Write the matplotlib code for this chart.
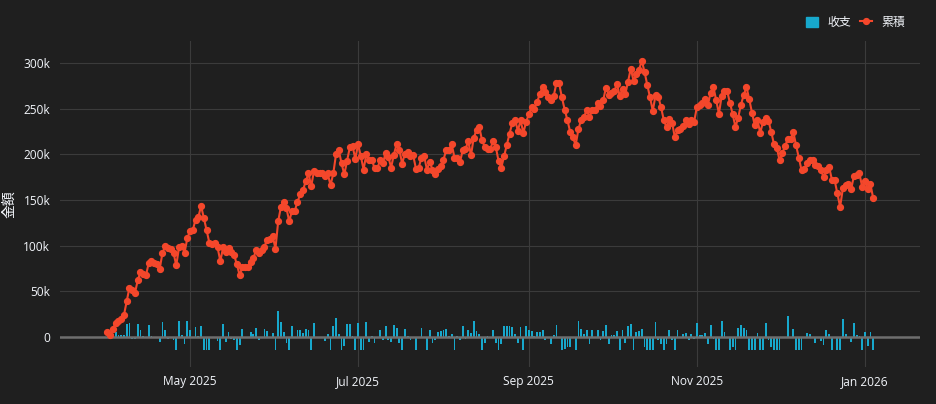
import matplotlib
matplotlib.use("Agg")
import matplotlib.pyplot as plt
from matplotlib.lines import Line2D
from matplotlib.patches import Patch
import numpy as np
import pandas as pd

plt.rcParams['font.family'] = ['Open Sans', 'Noto Sans CJK JP', 'DejaVu Sans']

# one value per day, 2025-04-01 .. 2026-01-04
start_date = '2025-04-01'
end_date = '2026-01-04'

# daily income/expense (thousands)
daily_k = [
    0, -2, 3, 5, 2, 2, 2, 14.6, 15, -2.5, -2.5, 14, 8, 1.5, 0, 12.8, 1, -1.5, 0, -5.5,
    16.4, 7.3, -2, 0, -3, -14, 18, 2, -7.3, 17, 8, 0, 11, 1.5, 12, -14, -14, -14, 0, 0,
    -4, -14, 14.6, -5, 5.5, -2, -3, -14, -9, 8.4, 0, 0, 5.5, 3.6, 10, -3.6, 0, 9, 6.5, 0,
    4.4, -14.6, 29, 16.4, 5, -6.6, -14.6, 11.7, 0, 8, 7.3, 4.7, 9, 7.3, -14.6, 15.7, -1, 0, 0, -4.4,
    3, -14.6, 11.7, 21, 3.6, -14.6, -10, 14.6, 14, 1, -14.6, 15, -14.6, -14.6, 16.4, -5, 1, -7, 0, 8,
    -3, 12, -3.6, -5, 12.8, 10, -6.6, -14.6, 9, 1, -3, 0, -14.6, 0, 10, -1, -14, 7.3, -6.6, -3.6,
    5.5, 6.6, 7.3, 9, 1, 3.6, -14, 1, -3.6, 12, -2, 8, 4.4, 18, 6.6, 3, -14, -6.6, 1, 0,
    7.3, -6.6, -14.6, -7.3, 11.7, 11.7, 11.7, 11, 3, -6.6, 11, -14.6, 11.7, 7.3, 6.6, 1, 5.5, 5.5, 8, -3.6,
    0.5, -8, 1.8, 13.5, 0, -14.6, -12.8, -11, -11, 0, -14, 17, 9, 3, 7.3, -7.3, 7.3, 0.5, 7.3, -3,
    6.6, 12.8, -7.3, 1.8, 1.8, 6.6, -14, 8, -6.6, 11.7, 14, -14, 5.5, 6.6, 9, -11, -14, -14, -14.6, 16.4,
    -3, -7.3, -14, -8, 7.3, -3, -14.6, 8, 0, 3.6, 4.4, -3.6, 3.6, -2, 15.3, 1.8, 1.8, 4.4, -7.3, 12.8,
    -2, -14.6, -14.6, 17.5, 5, 0, -14.6, -11, -14.6, 10, 12.8, 10, 7.3, -14.6, -14.6, -14.6, 4.7, -14.6, -14.6, 15.7,
    -3, -11, -14.6, -14, -14.6, 0, 0, 22.6, 0, 8.8, -14.6, -14.6, -14.6, 0, 4.7, 3.6, 0, -6.6, 0, -4.4,
    -9, 7.3, 3.6, -14.6, 0, -14.6, -14.6, 19.3, 3.6, -1, -5.5, 15.3, 1.8, 1, -14.6, 5.5, -10, 5.5, -14.6,
]

# running total (thousands)
total_k = [
    5.5, 2, 9, 15.5, 17.5, 20, 24, 39, 54, 51, 48, 62, 71, 69, 67.5, 81, 83, 81, 80, 75,
    92, 100, 97, 96, 92, 78.5, 98, 100, 92, 108, 116, 117, 128.5, 131, 143.5, 130.5, 116.8, 103.4, 102, 103,
    98, 83, 98, 93, 97, 93, 89.5, 79.6, 67.6, 76.7, 77, 76.7, 82, 86, 95.7, 92, 95, 99, 106.7, 107.5,
    111, 96.5, 126.6, 142.7, 148, 141, 126.6, 138, 138, 148, 156, 160.7, 170.5, 179, 165, 182, 180, 179, 180, 176,
    179, 166, 179, 200, 204.5, 190, 178, 193, 207.5, 209, 195, 211, 198, 183.3, 200, 194, 194, 184.5, 184.5, 193.5,
    190, 201.5, 197, 185.5, 199.7, 211, 205, 189.8, 200.8, 202.6, 197.8, 199, 184.4, 185, 196.4, 197.8, 183.3, 191.6, 183.3, 178,
    184.4, 187, 194.2, 204.4, 205, 211, 196.4, 196.4, 191.6, 204.4, 205.8, 214.3, 199, 218.3, 226.4, 230, 215.4, 208, 206.3, 205.8,
    214.3, 208, 192.7, 185.4, 197.8, 209.9, 222.7, 234.4, 238, 225.6, 237.3, 223.4, 235.5, 243.9, 252, 250, 257.4, 266, 274, 268.4,
    263, 259.4, 263.7, 277.5, 277.5, 262.2, 249, 237.4, 224.6, 218.4, 210, 227.5, 238, 241, 248.3, 241, 248.3, 248.3, 255.6, 252.7,
    259.2, 273, 265.4, 267.2, 269.4, 276.7, 263.6, 272, 265.8, 279.3, 293.9, 280.4, 287.7, 292.8, 302.3, 290.3, 275.7, 262.2, 247.6, 264.7,
    263, 251.3, 237.4, 229.4, 238.2, 234.6, 218.5, 226.5, 227.6, 230.9, 237.3, 233.7, 238, 235.5, 251.9, 254.4, 256.6, 261, 254, 267.6,
    273.8, 259.2, 244.6, 263.6, 269, 269, 256.6, 243.8, 229.9, 240.1, 254.4, 264.7, 273.8, 260.3, 245.7, 231.8, 237.3, 223.4, 235.5, 240.1,
    236.6, 224.5, 211, 207.4, 193.5, 201, 209, 216.5, 216.5, 224.6, 210, 196.4, 182.6, 184.4, 190, 193.5, 193.5, 188, 187.3, 182.6,
    175.3, 182.6, 186.2, 172.4, 171.7, 157.1, 142.5, 162.6, 166.2, 167, 161.5, 176.4, 177.1, 179, 164.4, 171, 161.9, 167, 152.3,
]

xtick_dates = ['2025-05-01', '2025-07-01', '2025-09-01', '2025-11-01', '2026-01-01']
xtick_labels = ['May 2025', 'Jul 2025', 'Sep 2025', 'Nov 2025', 'Jan 2026']
ytick_vals = [0, 50000, 100000, 150000, 200000, 250000, 300000]
ytick_labels = ['0', '50k', '100k', '150k', '200k', '250k', '300k']

dates = pd.date_range(start_date, end_date, freq='D')
daily = np.array(daily_k) * 1000
total = np.array(total_k) * 1000

bg = '#1f1f1f'
bar_color = '#17a8cc'
line_color = '#f4472b'
txt = '#f2f5fa'

fig = plt.figure(figsize=(9.36, 4.04), dpi=100, facecolor=bg)
ax = fig.add_axes([60/936, 1 - 367/404, 860/936, 326/404], facecolor=bg)

ax.bar(dates, daily, width=0.65, color=bar_color, zorder=2)
ax.plot(dates, total, color=line_color, lw=1.5, marker='o', ms=4.2, zorder=3)
ax.axhline(0, color='#6e6e6e', lw=1.8, zorder=2.5)

ax.set_xlim(pd.Timestamp('2025-03-14 19:00'), pd.Timestamp('2026-01-21'))
ax.set_ylim(-32800, 324000)

ax.set_xticks(pd.to_datetime(xtick_dates))
ax.set_xticklabels(xtick_labels)
ax.set_yticks(ytick_vals)
ax.set_yticklabels(ytick_labels)
ax.tick_params(colors=txt, labelsize=8.6, length=0, pad=7)
ax.tick_params(axis='x', pad=6)
ax.grid(True, color='#3b3b3b', lw=0.8, zorder=0)
ax.set_axisbelow(True)
for s in ax.spines.values():
    s.set_visible(False)

ax.set_ylabel('金額', color=txt, fontsize=10, family=['Noto Sans CJK JP', 'DejaVu Sans'],
              va='center')
ax.yaxis.set_label_coords(-0.059, 0.5)

handles = [Patch(facecolor=bar_color, edgecolor=bar_color),
           Line2D([0], [0], color=line_color, lw=1.5, marker='o', ms=4.2)]
leg = fig.legend(handles, ['收支', '累積'], ncol=2, loc='center right',
                 bbox_to_anchor=(916/936, 1 - 22.5/404), frameon=False,
                 handlelength=1.0, handleheight=1.0, columnspacing=0.7, handletextpad=0.8,
                 prop={'family': ['Noto Sans CJK JP', 'DejaVu Sans'], 'size': 8.6})
for t in leg.get_texts():
    t.set_color(txt)

fig.savefig('out.png', dpi=100, facecolor=bg)
